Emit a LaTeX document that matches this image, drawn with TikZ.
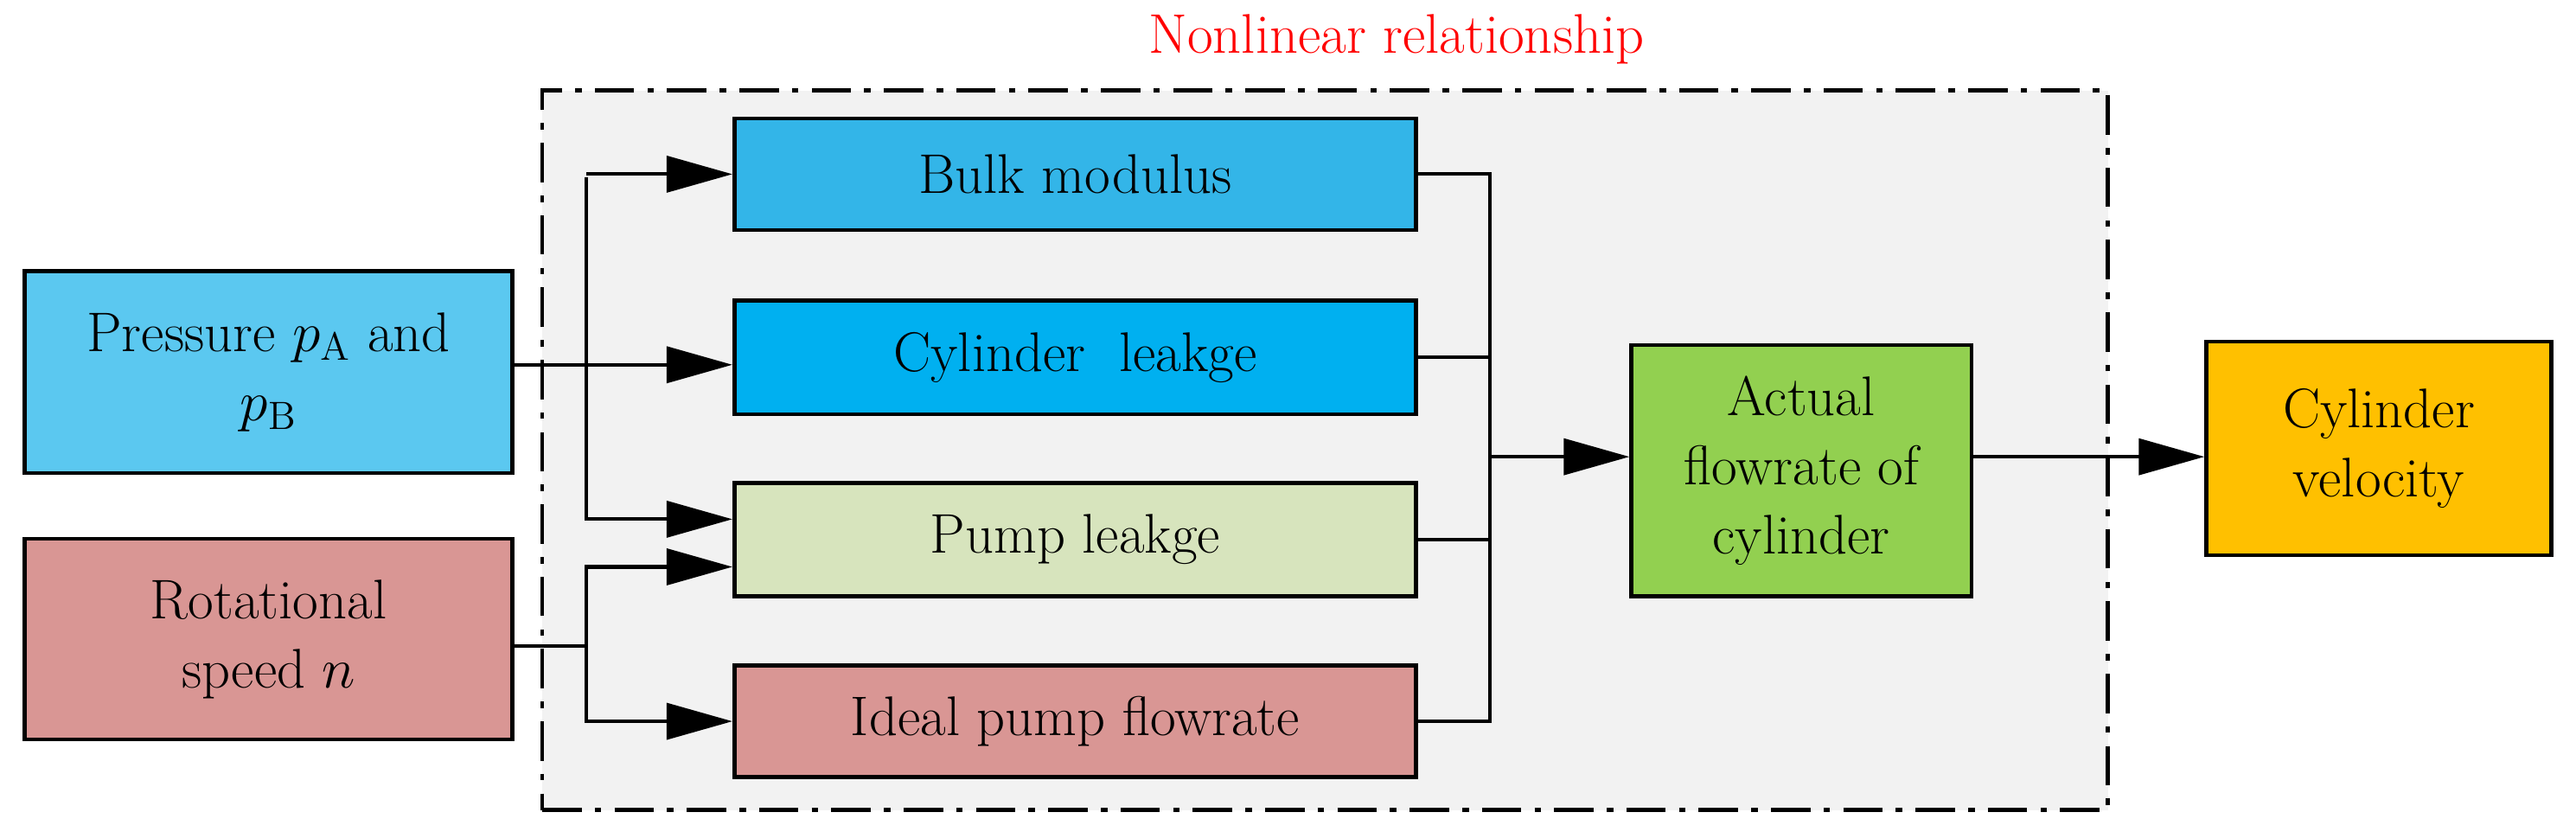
\documentclass[tikz,border=0pt]{standalone}
\usetikzlibrary{arrows.meta}
\begin{document}
\begin{tikzpicture}[x=0.5pt,y=-0.5pt,
  box/.style={draw=black,line width=1.2pt,align=center,inner sep=0pt,font=\fontsize{17}{21}\selectfont},
  ln/.style={line width=1.1pt},
  ar/.style={ln,-{Triangle[length=20pt,width=11pt]}}]
\useasboundingbox (0,0) rectangle (1568,510);
\definecolor{lb}{HTML}{5BC8F0}\definecolor{bm}{HTML}{33B5E8}\definecolor{cl}{HTML}{00B0F0}
\definecolor{pl}{HTML}{D7E4BD}\definecolor{rs}{HTML}{D99694}\definecolor{gr}{HTML}{92D050}\definecolor{yo}{HTML}{FFC000}
\node[draw=black,line width=1.2pt,dash pattern=on 12pt off 4pt on 2pt off 4pt,fill=black!5,minimum width=476.5pt,minimum height=219pt,inner sep=0pt] (nl) at (806.5,274) {};
\node[text=red,font=\fontsize{17}{21}\selectfont] (t) at (850,24) {Nonlinear relationship};
\node[box,fill=lb,minimum width=148.5pt,minimum height=61.5pt] (p) at (163.5,226.5) {Pressure $p_{\mathrm A}$ and\\$p_{\mathrm B}$};
\node[box,fill=rs,minimum width=148.5pt,minimum height=61pt] (r) at (163.5,389) {Rotational\\speed $n$};
\node[box,fill=bm,minimum width=207.5pt,minimum height=34pt] (b) at (654.5,106) {Bulk modulus};
\node[box,fill=cl,minimum width=207.5pt,minimum height=34.5pt] (c) at (654.5,217.5) {Cylinder\ \ leakge};
\node[box,fill=pl,minimum width=207.5pt,minimum height=34.5pt] (pu) at (654.5,328.5) {Pump leakge};
\node[box,fill=rs,minimum width=207.5pt,minimum height=34pt] (i) at (654.5,439) {Ideal pump flowrate};
\node[box,fill=gr,minimum width=103.5pt,minimum height=76.5pt] (a) at (1096.5,286.5) {Actual\\flowrate of\\cylinder};
\node[box,fill=yo,minimum width=105pt,minimum height=65pt] (v) at (1448,273) {Cylinder\\velocity};
\coordinate (j1) at (357,222);
\coordinate (j2) at (357,393);
\coordinate (k) at (907,278);
\draw[ln] (p.east|-j1) -- (j1);
\draw[ar] (j1|-b.west) |- (b.west);
\draw[ar] (j1) -- (c.west|-j1);
\draw[ln] (j1) -- (357,108);
\draw[ar] (j1) |- (pu.west|-0,316);
\draw[ln] (r.east|-j2) -- (j2);
\draw[ar] (j2) |- (pu.west|-0,345);
\draw[ar] (j2) |- (i.west);
\draw[ln] (b.east) -| (k);
\draw[ln] (c.east) -| (k);
\draw[ln] (pu.east) -| (k);
\draw[ln] (i.east) -| (k);
\draw[ar] (k) -- (a.west|-k);
\draw[ar] (a.east|-k) -- (v.west|-k);
\end{tikzpicture}
\end{document}
